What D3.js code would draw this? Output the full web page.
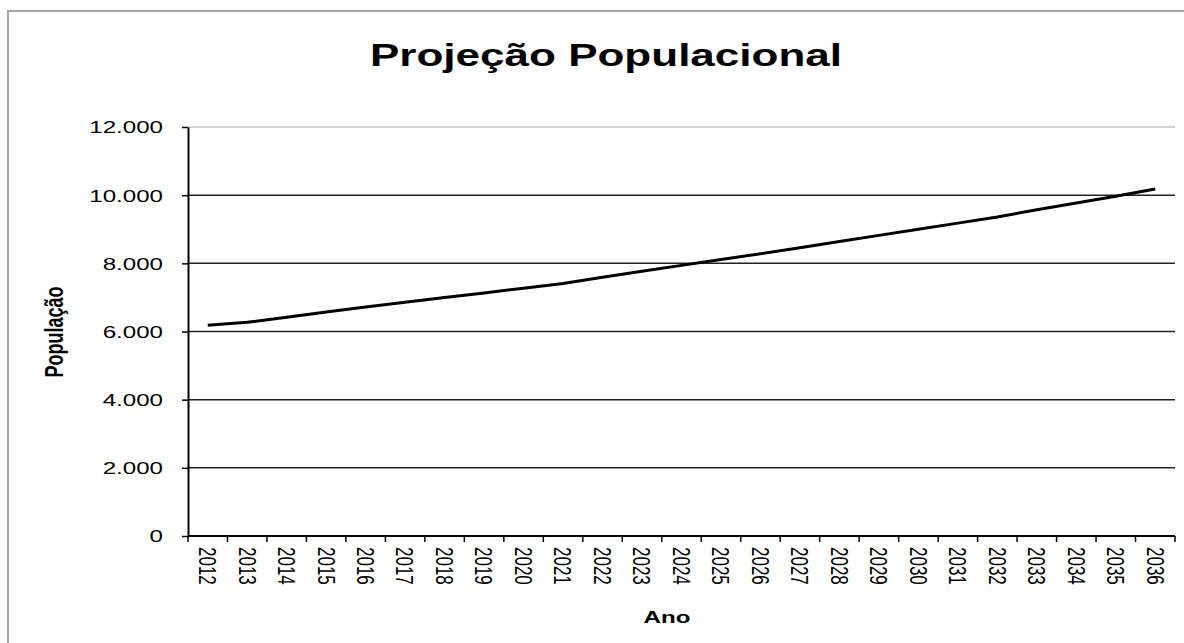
<!DOCTYPE html>
<html>
<head>
<meta charset="utf-8">
<title>Projeção Populacional</title>
<style>
  body { margin: 0; background: #fff; }
  svg { display: block; }
  text { font-family: 'Liberation Sans', Arial, sans-serif; fill: #000; }
</style>
</head>
<body>
<svg width="1184" height="643"></svg>
<script src="https://d3js.org/d3.v7.min.js"></script>
<script>

// dados
const anos = ['2012', '2013', '2014', '2015', '2016', '2017', '2018', '2019', '2020',
  '2021', '2022', '2023', '2024', '2025', '2026', '2027', '2028', '2029', '2030',
  '2031', '2032', '2033', '2034', '2035', '2036'];
const populacao = [6180, 6270, 6420, 6570, 6720, 6860, 7000, 7130, 7270,
  7410, 7590, 7770, 7940, 8110, 8280, 8460, 8640, 8820, 9000,
  9180, 9360, 9570, 9770, 9970, 10180];
const yTicks = [0, 2000, 4000, 6000, 8000, 10000, 12000];
const yTickLabels = ['0', '2.000', '4.000', '6.000', '8.000', '10.000', '12.000'];

const width = 1184, height = 643;
const margin = {left: 188, right: 9, top: 127, bottom: 107};
const sx = 1.42; // the source picture is stretched sideways, text too

const svg = d3.select('svg');

// outer frame (runs off the picture right and bottom)
svg.append('rect')
  .attr('x', 8).attr('y', 11)
  .attr('width', 1300).attr('height', 800)
  .attr('fill', 'none')
  .attr('stroke', '#a6a6a6')
  .attr('stroke-width', 2);

const x = d3.scaleBand()
  .domain(anos)
  .range([margin.left, width - margin.right]);

const y = d3.scaleLinear()
  .domain([0, 12000])
  .range([height - margin.bottom, margin.top]);

// gridlines
svg.append('g')
  .selectAll('line')
  .data(yTicks.slice(1))
  .join('line')
  .attr('x1', margin.left)
  .attr('x2', width - margin.right)
  .attr('y1', d => y(d))
  .attr('y2', d => y(d))
  .attr('stroke', d => d === 12000 ? '#c4c4c4' : '#222')
  .attr('stroke-width', 1.5);

// series
const line = d3.line()
  .x((d, i) => x(anos[i]) + x.bandwidth() / 2)
  .y(d => y(d));

svg.append('path')
  .datum(populacao)
  .attr('d', line)
  .attr('fill', 'none')
  .attr('stroke', '#000')
  .attr('stroke-width', 3)
  .attr('stroke-linejoin', 'round');

// y axis
const yAxis = svg.append('g')
  .attr('transform', `translate(${margin.left},0)`)
  .call(d3.axisLeft(y)
    .tickValues(yTicks)
    .tickFormat((d, i) => yTickLabels[i])
    .tickSize(6)
    .tickSizeOuter(0));

yAxis.select('.domain').attr('stroke', '#000').attr('stroke-width', 2);
yAxis.selectAll('.tick line').attr('stroke', '#000').attr('stroke-width', 1.5);
yAxis.selectAll('.tick text')
  .attr('x', 0)
  .attr('dy', '0.35em')
  .attr('transform', `translate(-25,0) scale(${sx},1)`)
  .style('font-size', '17px')
  .style('font-family', null);

// x axis
const base = y(0);
svg.append('line')
  .attr('x1', margin.left).attr('x2', width - margin.right)
  .attr('y1', base).attr('y2', base)
  .attr('stroke', '#000').attr('stroke-width', 2);

svg.append('g')
  .selectAll('line')
  .data(anos.map(a => x(a)).concat([x.range()[1]]))
  .join('line')
  .attr('x1', d => d).attr('x2', d => d)
  .attr('y1', base).attr('y2', base + 6)
  .attr('stroke', '#000').attr('stroke-width', 1.5);

const cap = 0.716 * 17 * sx;
svg.append('g')
  .selectAll('text')
  .data(anos)
  .join('text')
  .attr('transform', d => `translate(${x(d) + x.bandwidth() / 2 - cap / 2},${base + 11}) scale(${sx},1) rotate(90)`)
  .style('font-size', '17px')
  .text(d => d);

// titles
svg.append('text')
  .attr('transform', `translate(606,66) scale(${sx},1)`)
  .attr('text-anchor', 'middle')
  .style('font-size', '31px')
  .style('font-weight', 'bold')
  .text('Projeção Populacional');

svg.append('text')
  .attr('transform', `translate(63,332) scale(${sx},1) rotate(-90)`)
  .attr('text-anchor', 'middle')
  .style('font-size', '18px')
  .style('font-weight', 'bold')
  .text('População');

svg.append('text')
  .attr('transform', `translate(667,623) scale(${sx},1)`)
  .attr('text-anchor', 'middle')
  .style('font-size', '17px')
  .style('font-weight', 'bold')
  .text('Ano');

</script>
</body>
</html>
